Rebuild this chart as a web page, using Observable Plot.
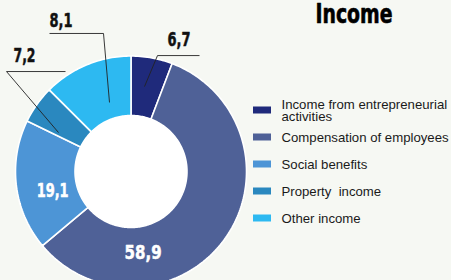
<!DOCTYPE html>
<html><head><meta charset="utf-8">
<script src="https://cdn.jsdelivr.net/npm/d3@7"></script>
<script src="https://cdn.jsdelivr.net/npm/@observablehq/plot@0.6"></script>
<style>
html,body{margin:0;padding:0;background:#f6f8f3;}
#chart{width:451px;height:280px;overflow:hidden;position:relative}
</style></head><body><div id="chart"></div>
<script>
// ---- data ----
const title = "Income";
const categories = ["Income from entrepreneurial\nactivities", "Compensation of employees", "Social benefits", "Property  income", "Other income"];
const shares = [5.8, 58.1, 18.3, 5.3, 12.5];           // slice sizes as drawn (share of the ring, %)
const valueLabels = ["6,7", "58,9", "19,1", "7,2", "8,1"];
const colors = ["#1f2a7b", "#4f6197", "#4d95d6", "#2a88bf", "#2db9f1"];

// ---- layout ----
const W = 451, H = 280;
const L = {
  cx: 130.5, cy: 171, outer: 115.5, inner: 56,
  title: {x: 353.5, y: 13.5, size: 27, width: 77},
  legend: {x0: 253, swW: 18, swH: 7, textX: 281, y0: 110, step: 27, size: 13.2, lineHeight: 0.86},
  labelSize: 20, labelWidths: [23, 37, 32, 22, 23],
  labelPos: [
    {da: -1.4, r: 86, elbow: [13, 31], len: 42, text: [21.5, 15.5]},
    {da: 46.1, r: 82.4},
    {da: -6.5, r: 80.6},
    {da: -7.2, r: 82.3, elbow: [-52, 61], len: 59, text: [18, 15.5]},
    {da: 5.2, r: 72.3, elbow: [-6, 69], len: -54, text: [-42.5, 12.5]}
  ]
};
const polar = (a, r) => { const t = a * Math.PI / 180; return [r * Math.sin(t), r * Math.cos(t)]; };

// ---- slices from data ----
const total = d3.sum(shares);
let cum = 0;
const arcs = shares.map((v, i) => { const a0 = cum / total * 360; cum += v; return {i, cat: categories[i], a0, a1: cum / total * 360}; });
const ringPts = [];
for (const s of arcs) {
  const n = Math.max(8, Math.ceil((s.a1 - s.a0) / 1.2));
  const pts = [];
  for (let k = 0; k <= n; k++) pts.push(polar(s.a0 + (s.a1 - s.a0) * k / n, L.outer));
  for (let k = n; k >= 0; k--) pts.push(polar(s.a0 + (s.a1 - s.a0) * k / n, L.inner));
  pts.push(pts[0]);
  for (const [x, y] of pts) ringPts.push({cat: s.cat, x, y});
}

// ---- labels & leaders ----
const labelData = [], leaders = [];
arcs.forEach((s, i) => {
  const p = L.labelPos[i];
  const [ax, ay] = polar((s.a0 + s.a1) / 2 + p.da, p.r);
  if (p.elbow) {
    const ex = ax + p.elbow[0], ey = ay + p.elbow[1];
    leaders.push({x1: ax, y1: ay, x2: ex, y2: ey});
    leaders.push({x1: ex, y1: ey, x2: ex + p.len, y2: ey});
    labelData.push({i, text: valueLabels[i], x: ex + p.text[0], y: ey + p.text[1], fill: "#111"});
  } else {
    labelData.push({i, text: valueLabels[i], x: ax, y: ay, fill: "#ffffff"});
  }
});

// legend rows (pixel layout converted to the chart's coordinates)
const toX = px => px - L.cx, toY = py => L.cy - py;
const legendRows = categories.map((c, i) => {
  const yc = L.legend.y0 + L.legend.step * i;
  return {cat: c, x1: toX(L.legend.x0), x2: toX(L.legend.x0 + L.legend.swW),
          y1: toY(yc - L.legend.swH / 2), y2: toY(yc + L.legend.swH / 2),
          tx: toX(L.legend.textX), ty: toY(yc + 1)};
});

const plot = Plot.plot({
  width: W, height: H, margin: 0,
  style: {background: "transparent", fontFamily: "Liberation Sans, Arial, sans-serif"},
  x: {domain: [-L.cx, W - L.cx], axis: null},
  y: {domain: [L.cy - H, L.cy], axis: null},
  color: {domain: categories, range: colors},
  marks: [
    Plot.line(ringPts, {x: "x", y: "y", z: "cat", fill: "cat", stroke: "white", strokeWidth: 1.6, strokeLinejoin: "miter", curve: "linear"}),
    Plot.dot([{x: 0, y: 0}], {x: "x", y: "y", r: L.inner - 0.3, fill: "white", stroke: "none"}),
    Plot.link(leaders, {x1: "x1", y1: "y1", x2: "x2", y2: "y2", stroke: "#222", strokeWidth: 0.9}),
    Plot.text(labelData, {x: "x", y: "y", text: "text", fill: "fill", stroke: "fill", strokeWidth: 0.5, fontSize: L.labelSize, fontWeight: "bold", fontFamily: "DejaVu Sans Condensed, DejaVu Sans, sans-serif"}),
    Plot.text([title], {x: toX(L.title.x), y: toY(L.title.y), text: d => d, fill: "#000", stroke: "#000", strokeWidth: 0.6, fontSize: L.title.size, fontWeight: "bold", fontFamily: "DejaVu Sans Condensed, DejaVu Sans, sans-serif"}),
    Plot.rect(legendRows, {x1: "x1", x2: "x2", y1: "y1", y2: "y2", fill: "cat"}),
    Plot.text(legendRows, {x: "tx", y: "ty", text: "cat", textAnchor: "start", lineHeight: L.legend.lineHeight, fontSize: L.legend.size, fill: "#1a1a1a", fontFamily: "Liberation Sans, Arial, sans-serif"})
  ]
});

// condensed look for the heavy numerals and title
d3.select(plot).selectAll("text").each(function () {
  const t = this.textContent;
  const i = valueLabels.indexOf(t);
  if (i >= 0) { this.setAttribute("textLength", L.labelWidths[i]); this.setAttribute("lengthAdjust", "spacingAndGlyphs"); }
  if (t === title) { this.setAttribute("textLength", L.title.width); this.setAttribute("lengthAdjust", "spacingAndGlyphs"); }
  if (t.includes("  ")) this.style.whiteSpace = "pre";
});
document.getElementById("chart").append(plot);
</script></body></html>
